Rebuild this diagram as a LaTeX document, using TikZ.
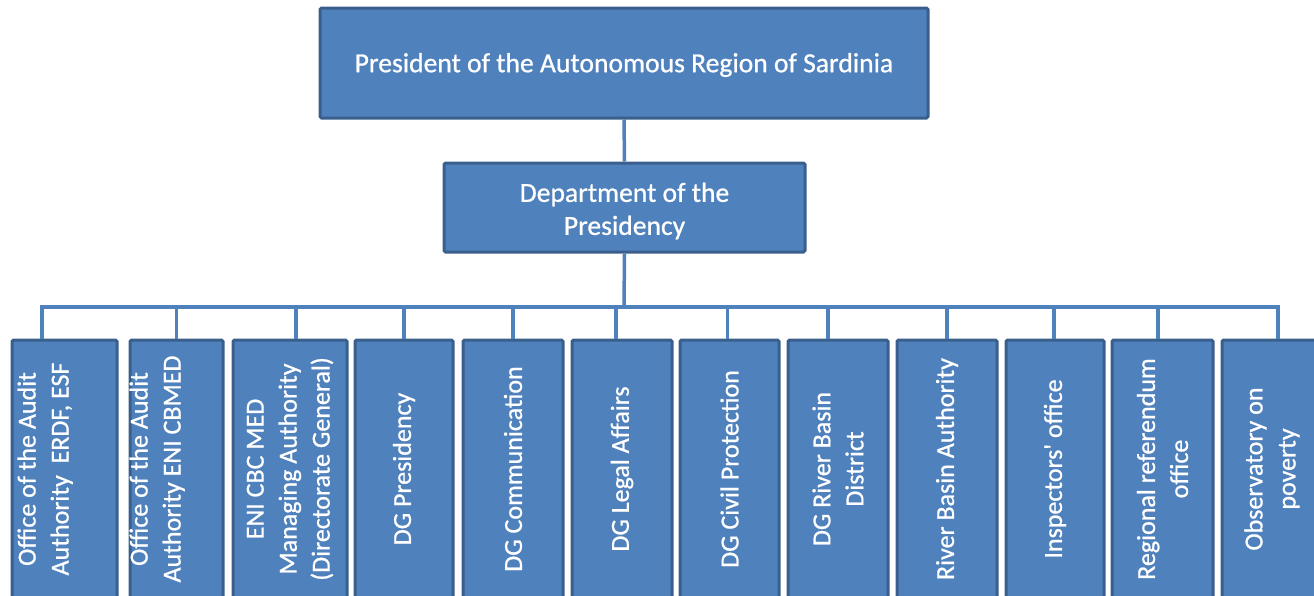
\documentclass[tikz,border=0pt]{standalone}
\usepackage{fontspec}
\setmainfont{Carlito}[Ligatures=TeXOff,FakeBold=0.8]
\definecolor{boxfill}{HTML}{4F81BD}
\definecolor{boxline}{HTML}{3A5F8C}
\definecolor{connline}{HTML}{4F81BD}
\begin{document}
\begin{tikzpicture}[x=1pt,y=-1pt,
  box/.style={draw=boxline,fill=boxfill,line width=3pt,rounded corners=1.5pt,inner sep=0pt},
  txt/.style={text=white,font=\fontsize{26}{33}\selectfont,align=center,inner sep=0pt},
  bigtxt/.style={txt,font=\fontsize{27.6}{33}\selectfont},
  vtxt/.style={txt,rotate=90},
  conn/.style={draw=connline,line width=3.5pt}]
\useasboundingbox (0,0) rectangle (1314,595);
\clip (0,0) rectangle (1314,595);
% top levels
\node[box,minimum width=608pt,minimum height=110pt] (pres) at (624,63) {};
\node[bigtxt] (prest) at (624,65) {President of the Autonomous Region of Sardinia};
\node[box,minimum width=361pt,minimum height=89pt] (dept) at (624.5,207.5) {};
\node[bigtxt] (deptt) at (624.5,211) {Department of the\\Presidency};
\coordinate (bus) at (624,307);
% bottom boxes
\foreach \n/\cx/\w in {1/64.5/105,2/176.5/93,3/290/114,4/404/98,5/513/100,6/622/100,
  7/729.5/99,8/838/100,9/947/100,10/1055/98,11/1162.5/101,12/1272/100}{
  \node[box,minimum width=\w pt,minimum height=258pt] (b\n) at (\cx,469) {};
}
\node[vtxt] (t1) at (b1.center) {Office of the Audit\\Authority~~ERDF, ESF\\\strut};
\node[vtxt] (t2) at (b2.center) {Office of the Audit\\Authority ENI CBMED\\\strut};
\node[vtxt] (t3) at (b3.center) {ENI CBC MED\\Managing Authority\\(Directorate General)};
\node[vtxt] (t4) at (b4.center) {DG Presidency};
\node[vtxt] (t5) at (b5.center) {DG Communication};
\node[vtxt] (t6) at (b6.center) {DG Legal Affairs};
\node[vtxt] (t7) at (b7.center) {DG Civil Protection};
\node[vtxt] (t8) at (b8.center) {DG River Basin\\District};
\node[vtxt] (t9) at (b9.center) {River Basin Authority};
\node[vtxt] (t10) at (b10.center) {Inspectors' office};
\node[vtxt] (t11) at (b11.center) {Regional referendum\\office};
\node[vtxt] (t12) at (b12.center) {Observatory on\\poverty};
% connectors
\draw[conn] (pres.south) -- (dept.north);
\draw[conn] (dept.south) -- (bus);
\foreach \n/\dx in {1/-22.5,2/0,3/6,4/0,5/0,6/-6,7/-2,8/-10,9/0,10/-1,11/-4.5,12/6}{
  \draw[conn] ([xshift=\dx pt]b\n.north) |- (bus);
}
\end{tikzpicture}
\end{document}
